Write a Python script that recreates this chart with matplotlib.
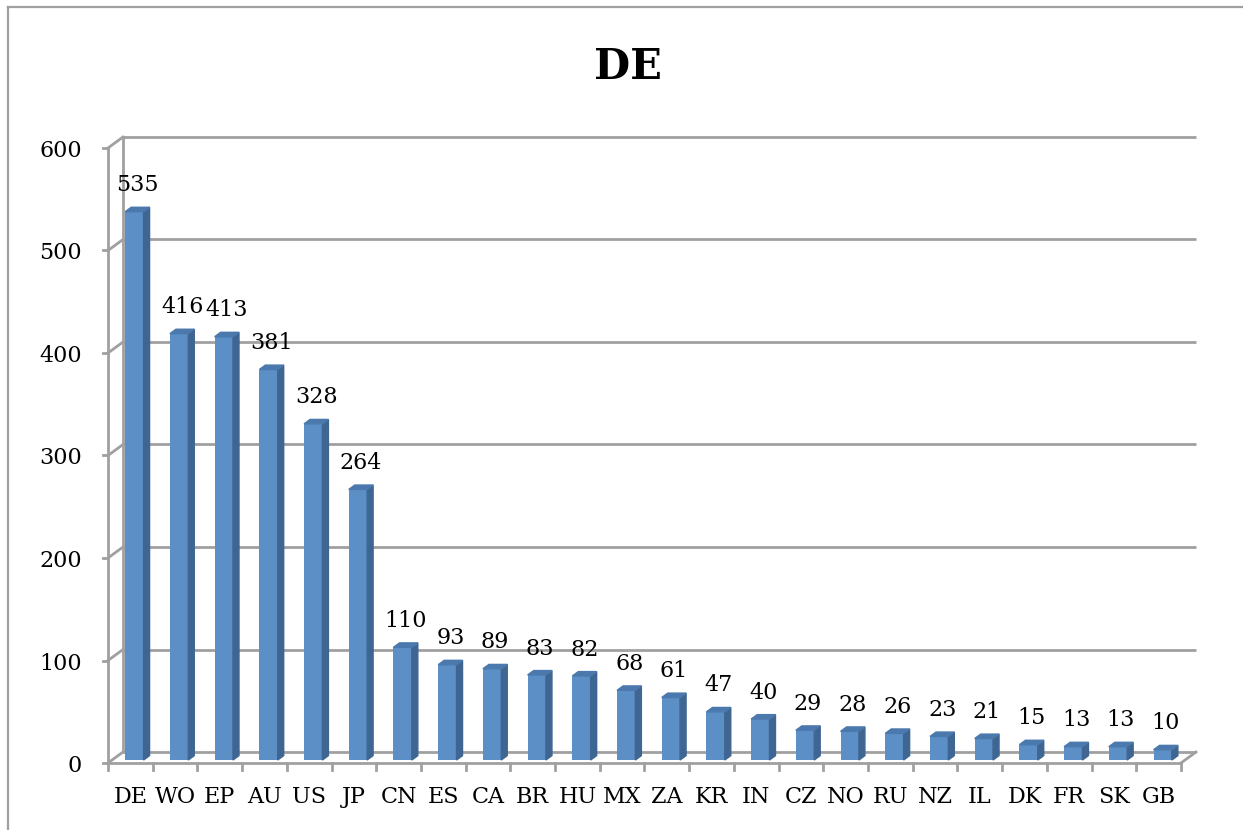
import matplotlib
matplotlib.use("Agg")
import matplotlib.pyplot as plt
from matplotlib.patches import Polygon
from matplotlib.lines import Line2D
import numpy as np

# data
countries = ["DE", "WO", "EP", "AU", "US", "JP", "CN", "ES", "CA", "BR", "HU", "MX",
             "ZA", "KR", "IN", "CZ", "NO", "RU", "NZ", "IL", "DK", "FR", "SK", "GB"]
counts = [535, 416, 413, 381, 328, 264, 110, 93, 89, 83, 82, 68,
          61, 47, 40, 29, 28, 26, 23, 21, 15, 13, 13, 10]
yticks = [0, 100, 200, 300, 400, 500, 600]
title = "DE"

W, H = 1243, 830
fig = plt.figure(figsize=(W / 100, H / 100), dpi=100)

# front plane of the 3d box in pixels
x0, x1 = 108, 1181
ytop, ybot = 148, 763
ax = fig.add_axes([x0 / W, (H - ybot) / H, (x1 - x0) / W, (ybot - ytop) / H])
n = len(countries)
ax.set_xlim(-0.5, n - 0.5)
ax.set_ylim(0, 600)
ax.axis("off")

# depth of the box in data units
px_x = (x1 - x0) / n
px_y = (ybot - ytop) / 600.0
dx = 15 / px_x
dy = 11 / px_y

grid_col = "#a0a0a0"
lw = 2.0

# back wall gridlines + left wall diagonals + y ticks
for v in yticks:
    ax.plot([-0.5 + dx, n - 0.5 + dx], [v + dy, v + dy], color=grid_col, lw=lw,
            clip_on=False, zorder=1, solid_capstyle="butt")
    ax.plot([-0.5, -0.5 + dx], [v, v + dy], color=grid_col, lw=lw, clip_on=False, zorder=1)
    ax.plot([-0.5 - 5 / px_x, -0.5], [v, v], color=grid_col, lw=lw, clip_on=False, zorder=1)
    ax.text(-0.5 - 26 / px_x, v - 3 / px_y, str(v), ha="right", va="center", fontsize=16,
            family="DejaVu Serif")
ax.plot([-0.5 + dx, -0.5 + dx], [dy, 600 + dy], color=grid_col, lw=lw, clip_on=False, zorder=1)
ax.plot([-0.5, -0.5], [0, 600], color=grid_col, lw=lw, clip_on=False, zorder=1)

# floor front edge, right edge and x ticks
ax.plot([-0.5, n - 0.5], [0, 0], color=grid_col, lw=lw, clip_on=False, zorder=1)
ax.plot([n - 0.5, n - 0.5 + dx], [0, dy], color=grid_col, lw=lw, clip_on=False, zorder=1)
for i in range(n + 1):
    ax.plot([i - 0.5, i - 0.5], [0, -7 / px_y], color=grid_col, lw=lw, clip_on=False, zorder=1)

# 3d-looking bars
z0, z1 = 0.27, 0.67
bw = 0.41
front_col = "#5b8fc6"
side_col = "#3f6692"
top_col = "#4b79ad"
fx = np.arange(n) + z0 * dx
ax.bar(fx, np.array(counts), width=bw, bottom=z0 * dy, color=front_col,
       zorder=3, clip_on=False)
ddx = (z1 - z0) * dx
ddy = (z1 - z0) * dy
for i, v in enumerate(counts):
    l = fx[i] - bw / 2
    r = fx[i] + bw / 2
    b = z0 * dy
    t = v + z0 * dy
    ax.add_patch(Polygon([[r, b], [r + ddx, b + ddy], [r + ddx, t + ddy], [r, t]],
                         closed=True, color=side_col, zorder=3, clip_on=False))
    ax.add_patch(Polygon([[l, t], [r, t], [r + ddx, t + ddy], [l + ddx, t + ddy]],
                         closed=True, color=top_col, zorder=3, clip_on=False))
    ax.annotate(str(v), (fx[i] + ddx / 2, t), xytext=(0, 19), textcoords="offset points",
                ha="center", va="center", fontsize=16, family="DejaVu Serif")
    ax.text(i, -34 / px_y, countries[i], ha="center", va="center", fontsize=16,
            family="DejaVu Serif")

fig.text(628 / W, 1 - 67 / H, title, ha="center", va="center", fontsize=30,
         fontweight="bold", family="DejaVu Serif")

# chart frame
fig.add_artist(Line2D([8 / W, 8 / W], [0, 1 - 7 / H], color=grid_col, lw=1.6))
fig.add_artist(Line2D([8 / W, 1], [1 - 7 / H, 1 - 7 / H], color=grid_col, lw=1.6))

fig.savefig("out.png", dpi=100)
